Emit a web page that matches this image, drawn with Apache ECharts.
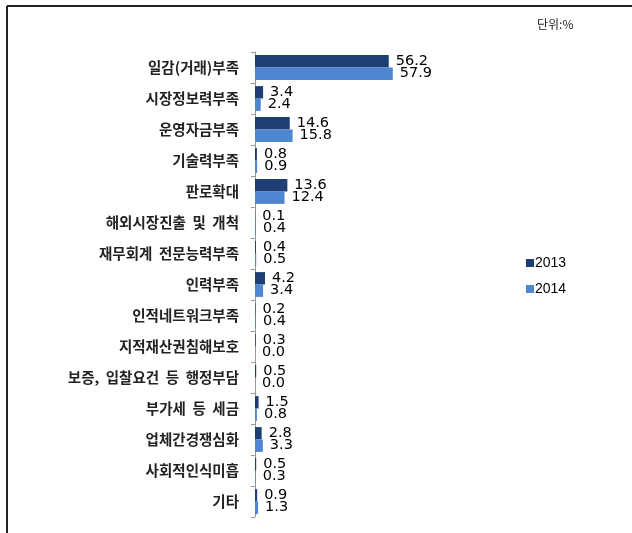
<!DOCTYPE html>
<html>
<head>
<meta charset="utf-8">
<script src="https://cdn.jsdelivr.net/npm/echarts@6/dist/echarts.min.js"></script>
<style>
  html,body{margin:0;padding:0;background:#fff;}
  #chart{width:632px;height:533px;}
</style>
</head>
<body>
<div id="chart"></div>
<script>
  var categories=['일감(거래)부족','시장정보력부족','운영자금부족','기술력부족','판로확대','해외시장진출  및  개척','재무회계  전문능력부족','인력부족','인적네트워크부족','지적재산권침해보호','보증,  입찰요건  등  행정부담','부가세  등  세금','업체간경쟁심화','사회적인식미흡','기타']
  var values2013=[56.2,3.4,14.6,0.8,13.6,0.1,0.4,4.2,0.2,0.3,0.5,1.5,2.8,0.5,0.9]
  var values2014=[57.9,2.4,15.8,0.9,12.4,0.4,0.5,3.4,0.4,0.0,0.0,0.8,3.3,0.3,1.3]
  var seriesNames=['2013','2014']
  var unitText='단위:%'

  var chart=echarts.init(document.getElementById('chart'))

  var labelStyle={
    show:true,
    position:'right',
    distance:7,
    fontFamily:'DejaVu Sans',
    fontSize:14.5,
    color:'#000',
    formatter:function (p) {
      return p.value.toFixed(1)
    }
  }

  var option={
    animation:false,
    backgroundColor:'#fff',
    graphic:[
      {type:'line',shape:{x1:7,y1:6,x2:632,y2:6},style:{stroke:'#222',lineWidth:2}},
      {type:'line',shape:{x1:7,y1:6,x2:7,y2:533},style:{stroke:'#222',lineWidth:2}},
      {type:'text',left:537,top:18,style:{text:unitText,fontSize:12,fontFamily:'Noto Sans CJK KR',fill:'#222'}}
    ],
    legend:{
      orient:'vertical',
      left:521,
      top:251,
      itemWidth:8,
      itemHeight:8,
      itemGap:12,
      icon:'rect',
      textStyle:{fontFamily:'Liberation Sans',fontSize:14,color:'#000',padding:[0,0,0,-4]},
      data:seriesNames
    },
    grid:{left:255,right:139,top:52,bottom:16},
    xAxis:{
      type:'value',
      min:0,
      max:100,
      show:false
    },
    yAxis:{
      type:'category',
      inverse:true,
      data:categories,
      axisLine:{lineStyle:{color:'#999',width:1}},
      axisTick:{show:true,length:4,lineStyle:{color:'#999'}},
      axisLabel:{
        margin:16,
        fontFamily:'Noto Sans CJK KR',
        fontSize:14.5,
        fontWeight:'bold',
        color:'#222'
      }
    },
    series:[
      {
        name:seriesNames[0],
        type:'bar',
        data:values2013,
        barGap:'0%',
        barCategoryGap:'20%',
        itemStyle:{color:'#1d3f74'},
        label:labelStyle
      },
      {
        name:seriesNames[1],
        type:'bar',
        data:values2014,
        barGap:'0%',
        barCategoryGap:'20%',
        itemStyle:{color:'#4f86d2'},
        label:labelStyle
      }
    ]
  }

  chart.setOption(option)
</script>
</body>
</html>
